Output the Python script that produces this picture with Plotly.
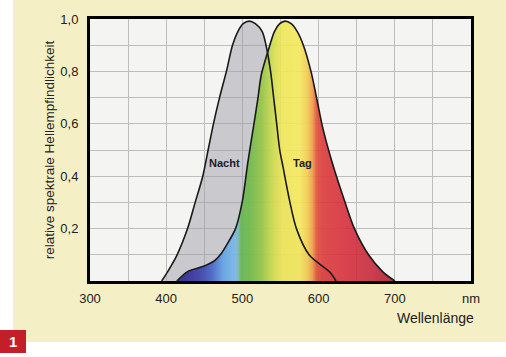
import plotly.graph_objects as go

# ---- data ----
nacht_nm = [394, 402, 414, 428, 438, 448, 455, 462, 470, 479, 487, 494, 501, 509,
            517, 526, 531, 537, 541, 545, 549, 553, 562, 571, 588, 614, 623]
nacht_v = [0.0, 0.036, 0.098, 0.2, 0.3, 0.4, 0.5, 0.6, 0.7, 0.8, 0.9, 0.952, 0.982, 0.992,
           0.982, 0.952, 0.9, 0.8, 0.7, 0.6, 0.5, 0.44, 0.306, 0.199, 0.098, 0.036, 0.0]

tag_nm = [414, 428, 448, 464, 472, 479, 491, 500, 507, 515, 520, 525, 536, 542, 549, 556,
          564, 572, 580, 590, 598, 605, 618, 634, 647, 666, 684, 700]
tag_v = [0.0, 0.036, 0.055, 0.079, 0.104, 0.136, 0.2, 0.306, 0.45, 0.597, 0.69, 0.79,
         0.9, 0.952, 0.982, 0.992, 0.982, 0.952, 0.9, 0.8, 0.69, 0.59, 0.45, 0.306, 0.2,
         0.098, 0.036, 0.0]

x_ticks = [300, 400, 500, 600, 700, 800]
x_labels = ["300", "400", "500", "600", "700", "nm"]
y_ticks = [0.2, 0.4, 0.6, 0.8, 1.0]
y_labels = ["0,2", "0,4", "0,6", "0,8", "1,0"]

# spectrum colour stops (wavelength nm, colour)
spec_nm = [400, 425, 445, 460, 475, 490, 495, 498, 510, 525, 540, 552, 575, 585,
           592, 597, 605, 640, 670, 700]
spec_col = ["42,32,128", "48,42,144", "58,62,170", "69,98,200", "98,162,228",
            "120,184,236", "122,184,176", "98,182,82", "111,186,72", "150,198,68",
            "207,220,76", "240,230,86", "244,232,90", "242,204,80", "238,156,68",
            "224,82,56", "220,58,58", "212,46,60", "198,42,60", "168,28,48"]

# ---- layout geometry ----
W, H = 506, 357
L, R, T, B = 90, 35, 19, 76
PW, PH = W - L - R, H - T - B


def px2x(p):
    return (p - L) / PW


def py2y(p):
    return (H - B - p) / PH


g0, g1 = spec_nm[0], spec_nm[-1]
colorscale = [[(n - g0) / (g1 - g0), "rgba(%s,0.9)" % c] for n, c in zip(spec_nm, spec_col)]

fig = go.Figure()
fig.add_trace(go.Scatter(x=nacht_nm, y=nacht_v, mode="lines", fill="tozeroy",
                         fillcolor="rgba(157,157,169,0.5)",
                         line=dict(color="rgba(0,0,0,0)", width=0, shape="spline", smoothing=0.8),
                         hoverinfo="skip", showlegend=False))
fig.add_trace(go.Scatter(x=tag_nm, y=tag_v, mode="lines", fill="tozeroy",
                         fillgradient=dict(type="horizontal", colorscale=colorscale,
                                           start=g0, stop=g1),
                         line=dict(color="#1a1a1a", width=1.6, shape="spline", smoothing=0.8),
                         hoverinfo="skip", showlegend=False))
fig.add_trace(go.Scatter(x=nacht_nm, y=nacht_v, mode="lines",
                         line=dict(color="#1a1a1a", width=1.6, shape="spline", smoothing=0.8),
                         hoverinfo="skip", showlegend=False))

font_family = "Liberation Sans, Arial, sans-serif"

fig.update_layout(
    width=W, height=H,
    margin=dict(l=L, r=R, t=T, b=B, pad=0),
    paper_bgcolor="#f5efc6",
    plot_bgcolor="#f4f4f3",
    font=dict(family=font_family, color="#222222", size=13),
    showlegend=False,
    xaxis=dict(range=[300, 800], tickvals=x_ticks, ticktext=x_labels,
               showgrid=True, gridcolor="#bdbdbd", gridwidth=1,
               minor=dict(dtick=50, tick0=300, showgrid=True, gridcolor="#bdbdbd", gridwidth=1),
               showline=True, linecolor="#000000", linewidth=3, mirror=True,
               ticks="", ticklabelstandoff=3, zeroline=False, fixedrange=True,
               tickfont=dict(size=13)),
    yaxis=dict(range=[0, 1.0], tickvals=y_ticks, ticktext=y_labels,
               showgrid=True, gridcolor="#bdbdbd", gridwidth=1,
               minor=dict(dtick=0.1, tick0=0, showgrid=True, gridcolor="#bdbdbd", gridwidth=1),
               showline=True, linecolor="#000000", linewidth=3, mirror=True,
               ticks="", ticklabelstandoff=6, zeroline=False, fixedrange=True,
               tickfont=dict(size=13),
               title=dict(text="relative spektrale Hellempfindlichkeit",
                          font=dict(size=13.5), standoff=3)),
)

shapes = [
    # white margins outside the beige panel
    dict(type="rect", xref="paper", yref="paper", x0=px2x(-5), x1=px2x(13),
         y0=py2y(H + 5), y1=py2y(-5), fillcolor="white", line=dict(width=0), layer="below"),
    dict(type="rect", xref="paper", yref="paper", x0=px2x(-5), x1=px2x(W + 5),
         y0=py2y(H + 5), y1=py2y(342), fillcolor="white", line=dict(width=0), layer="below"),
    # red figure number box
    dict(type="rect", xref="paper", yref="paper", x0=px2x(0), x1=px2x(26),
         y0=py2y(353), y1=py2y(330), fillcolor="#c41e2a", line=dict(width=0), layer="above"),
]
fig.update_layout(shapes=shapes)

annotations = [
    dict(text="<b>Nacht</b>", x=477, y=0.45, xref="x", yref="y", showarrow=False,
         font=dict(size=11, color="#1c1c2a")),
    dict(text="<b>Tag</b>", x=579, y=0.45, xref="x", yref="y", showarrow=False,
         font=dict(size=11, color="#1c1c2a")),
    dict(text="Wellenlänge", x=px2x(476), y=py2y(318), xref="paper", yref="paper",
         xanchor="right", yanchor="middle", showarrow=False, font=dict(size=14)),
    dict(text="<b>1</b>", x=px2x(13), y=py2y(341.5), xref="paper", yref="paper",
         xanchor="center", yanchor="middle", showarrow=False,
         font=dict(size=15, color="white")),
]
fig.update_layout(annotations=annotations)

fig.write_html("out.html", config={"displayModeBar": False, "staticPlot": True},
               post_script="document.body.style.margin='0';document.body.style.overflow='hidden';")
